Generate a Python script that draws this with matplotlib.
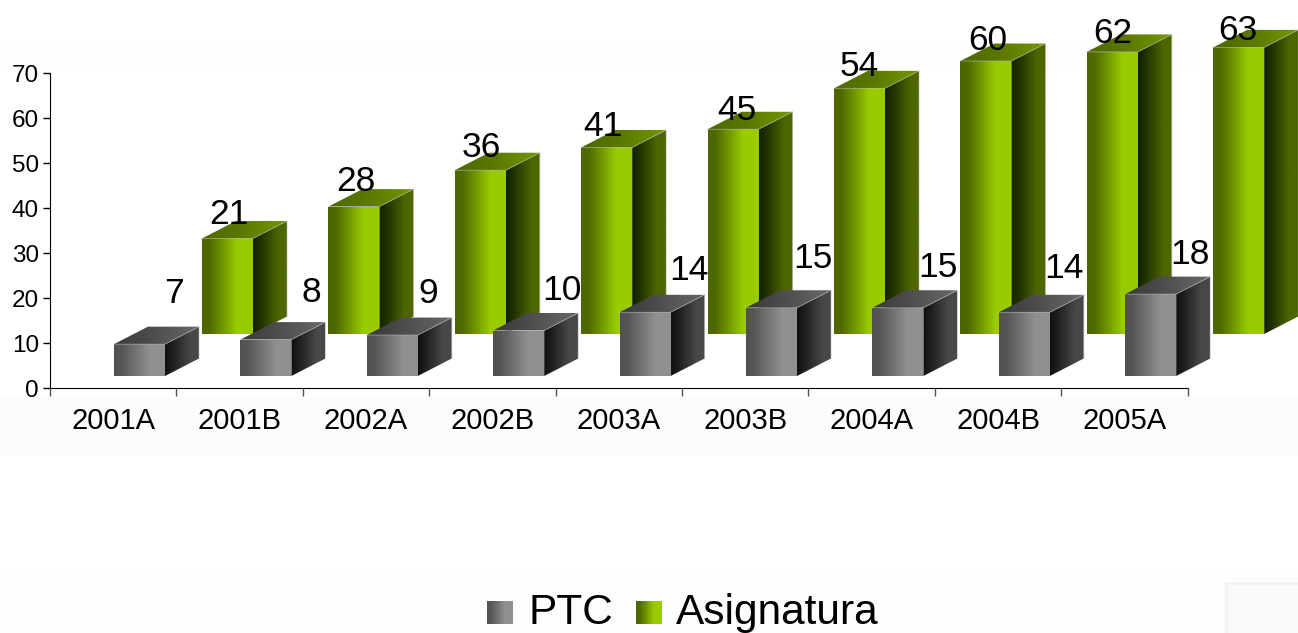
import numpy as np
import matplotlib
matplotlib.use('Agg')
from matplotlib import pyplot as plt
from matplotlib.colors import LinearSegmentedColormap
from matplotlib.patches import Polygon, Rectangle

categories = ['2001A', '2001B', '2002A', '2002B', '2003A', '2003B', '2004A', '2004B', '2005A']
ptc = [7, 8, 9, 10, 14, 15, 15, 14, 18]
asignatura = [21, 28, 36, 41, 45, 54, 60, 62, 63]
y_ticks = [0, 10, 20, 30, 40, 50, 60, 70]

# hand placed labels in the original, pixels from the top centre of the front face
ptc_nudge = [(34, 51), (45, 47), (36, 42), (43, 40), (44, 42), (41, 49), (40, 40), (40, 44), (39, 40)]
asig_nudge = [(1, 24), (2, 25), (1, 23), (-4, 21), (4, 19), (0, 22), (2, 21), (1, 18), (-1, 17)]

plt.rcParams['font.family'] = ['Liberation Sans', 'DejaVu Sans']

W, H = 1298, 633
X0, Y0 = 50, 388      # pixel of the axis origin
PX_CAT = 126.4        # pixels per category
PX_UNIT = 4.5         # pixels per axis unit
BAR_SCALE = 1.011     # the 3d bars run a bit taller than the axis scale
BAR_W = 51 / PX_CAT
DX = 34 / PX_CAT
DY = 17.5 / PX_UNIT
PTC_LEFT = (114 - X0) / PX_CAT
PTC_BASE = (Y0 - 376) / PX_UNIT
ASIG_LEFT = (202 - X0) / PX_CAT
ASIG_BASE = (Y0 - 334) / PX_UNIT

grey_front = [(0, '#505050'), (0.15, '#565656'), (0.7, '#909090'), (1, '#909090')]
grey_side = [(0, '#101010'), (0.2, '#1c1c1c'), (0.75, '#484848'), (1, '#484848')]
grey_top = [(0, '#383838'), (0.5, '#505050'), (1, '#686868')]
green_front = [(0, '#4d6600'), (0.15, '#506a00'), (0.7, '#99cc00'), (1, '#99cc00')]
green_side = [(0, '#142000'), (0.2, '#1f2f00'), (0.75, '#4d6600'), (1, '#4d6600')]
green_top = [(0, '#4d6600'), (0.5, '#5c7a00'), (1, '#739900')]

fig = plt.figure(figsize=(W / 100, H / 100), dpi=100, facecolor='white')
ax = fig.add_axes([0, 0, 1, 1])
ax.set_facecolor('white')


def gradient(ax, verts, colors, zorder):
    cmap = LinearSegmentedColormap.from_list('g', colors)
    verts = np.array(verts)
    ext = [verts[:, 0].min(), verts[:, 0].max(), verts[:, 1].min(), verts[:, 1].max()]
    im = ax.imshow(np.linspace(0, 1, 128).reshape(1, -1), cmap=cmap, extent=ext,
                   aspect='auto', interpolation='bilinear', zorder=zorder)
    poly = Polygon(verts, closed=True, transform=ax.transData, fc='none', ec='none')
    ax.add_patch(poly)
    im.set_clip_path(poly)


def box(ax, left, base, value, front, side, top, zorder):
    y1 = base + value * BAR_SCALE
    x1 = left + BAR_W
    gradient(ax, [(left, base), (x1, base), (x1, y1), (left, y1)], front, zorder)
    gradient(ax, [(x1, base), (x1 + DX, base + DY), (x1 + DX, y1 + DY), (x1, y1)], side, zorder)
    gradient(ax, [(left, y1), (x1, y1), (x1 + DX, y1 + DY), (left + DX, y1 + DY)], top, zorder)
    ax.plot([left, x1, x1 + DX, x1 + DX], [y1, y1, y1 + DY, base + DY], color='#b4b4b4',
            lw=0.6, alpha=0.7, zorder=zorder + 0.1)
    return left + BAR_W / 2, y1


# faint bands of the slide behind the chart
for top_px, bot_px, col in [(45, 70, '#fefefe'), (395, 455, '#fcfcfc'), (570, 633, '#fdfdfd')]:
    ax.axhspan((Y0 - bot_px) / PX_UNIT, (Y0 - top_px) / PX_UNIT, color=col, lw=0, zorder=0)
ax.add_patch(Rectangle(((1226 - X0) / PX_CAT, (Y0 - 640) / PX_UNIT), 80 / PX_CAT, 57 / PX_UNIT,
                       fc='#f9fbfa', ec='#f1f1f1', lw=2, zorder=0.5))

for i, v in enumerate(asignatura):
    cx, y1 = box(ax, i + ASIG_LEFT, ASIG_BASE, v, green_front, green_side, green_top, 2)
    ax.annotate(str(v), (cx, y1), xytext=(asig_nudge[i][0] * 0.72, asig_nudge[i][1] * 0.72),
                textcoords='offset points', ha='center', va='center', fontsize=25.5,
                color='#000000', zorder=6)

for i, v in enumerate(ptc):
    cx, y1 = box(ax, i + PTC_LEFT, PTC_BASE, v, grey_front, grey_side, grey_top, 3)
    ax.annotate(str(v), (cx, y1), xytext=(ptc_nudge[i][0] * 0.72, ptc_nudge[i][1] * 0.72),
                textcoords='offset points', ha='center', va='center', fontsize=25.5,
                color='#000000', zorder=6)

ax.set_xlim(-X0 / PX_CAT, (W - X0) / PX_CAT)
ax.set_ylim((Y0 - H) / PX_UNIT, Y0 / PX_UNIT)

for s in ['top', 'right']:
    ax.spines[s].set_visible(False)
ax.spines['left'].set_position(('data', 0))
ax.spines['bottom'].set_position(('data', 0))
ax.spines['left'].set_bounds(0, 70)
ax.spines['bottom'].set_bounds(0, len(categories))
ax.spines['left'].set_zorder(1)
ax.spines['bottom'].set_zorder(1)

ax.set_yticks(y_ticks)
ax.set_xticks(np.arange(len(categories) + 1))
ax.set_xticklabels([])
ax.set_xticks(np.arange(len(categories)) + 0.5, minor=True)
ax.set_xticklabels(categories, minor=True, fontsize=21)
ax.tick_params(axis='x', which='major', length=6, width=1, color='#555555', direction='out')
ax.tick_params(axis='x', which='minor', length=0, pad=14)
ax.tick_params(axis='y', length=5, width=1, labelsize=17.5, pad=3)

# legend, swatches carry the same gradients as the bars
for x_px, cols, label, tx_px in [(487, grey_front, 'PTC', 528), (636, green_front, 'Asignatura', 676)]:
    sw = fig.add_axes([x_px / W, 1 - 624 / H, 26 / W, 23 / H])
    sw.imshow(np.linspace(0, 1, 64).reshape(1, -1), aspect='auto',
              cmap=LinearSegmentedColormap.from_list('l', cols))
    sw.axis('off')
    fig.text(tx_px / W, 1 - 624 / H, label, fontsize=30.5, color='#000000', ha='left', va='baseline')

fig.savefig('out.png', dpi=100)
